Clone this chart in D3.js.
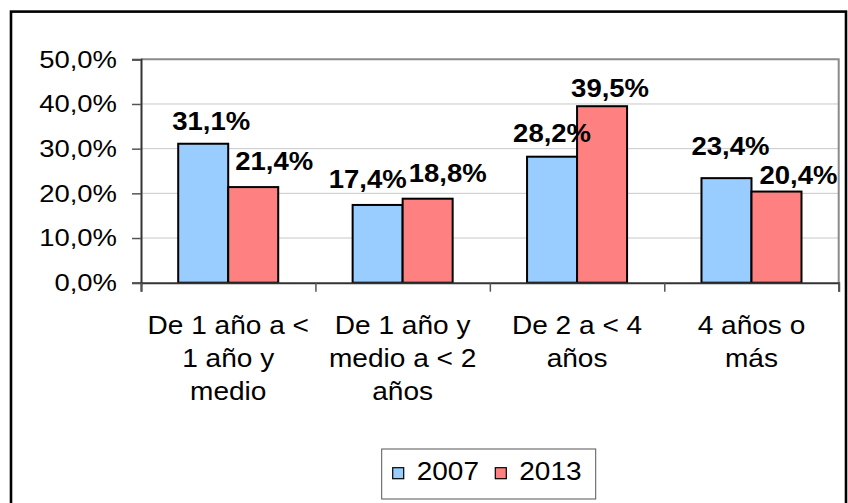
<!DOCTYPE html>
<html>
<head>
<meta charset="utf-8">
<script src="https://cdn.jsdelivr.net/npm/d3@7"></script>
<style>
  body { margin: 0; background: #fff; }
  svg { display: block; }
</style>
</head>
<body>
<div id="chart"></div>
<script>
// data
const categories = [
    ["De 1 año a <", "1 año y", "medio"],
    ["De 1 año y", "medio a < 2", "años"],
    ["De 2 a < 4", "años"],
    ["4 años o", "más"]
];
const seriesNames = ["2007", "2013"];
const values2007 = [31.1, 17.4, 28.2, 23.4];
const values2013 = [21.4, 18.8, 39.5, 20.4];
const yTicks = [0, 10, 20, 30, 40, 50];

// label nudges (Excel moved some labels around to avoid overlaps) [dx, gap above bar]
const labelNudge2007 = [[8, 14], [-10, 17], [0, 15], [4, 23]];
const labelNudge2013 = [[21, 17], [20, 17], [8, 9], [22, 8]];

const width = 848, height = 503;
const colors = { "2007": "#99ccff", "2013": "#ff8080" };
const font = "'Liberation Sans', Arial, sans-serif";

const svg = d3.select("#chart").append("svg")
    .attr("width", width)
    .attr("height", height)
    .attr("font-family", font);

// outer frame
svg.append("rect")
    .attr("x", 11).attr("y", 11.6)
    .attr("width", 835).attr("height", 500)
    .attr("fill", "#fff")
    .attr("stroke", "#000")
    .attr("stroke-width", 2.6);

const plot = { left: 141, right: 838.7, top: 59.3, bottom: 282.7 };

const x = d3.scaleBand()
    .domain(d3.range(categories.length))
    .range([plot.left, plot.right]);

const xInner = d3.scaleBand()
    .domain(seriesNames)
    .range([0, x.bandwidth()])
    .paddingOuter(0.744);

const y = d3.scaleLinear()
    .domain([0, 50])
    .range([plot.bottom, plot.top]);

// gridlines
svg.append("g")
    .selectAll("line")
    .data(yTicks.slice(1, -1))
    .join("line")
    .attr("x1", plot.left).attr("x2", plot.right)
    .attr("y1", d => y(d)).attr("y2", d => y(d))
    .attr("stroke", "#c8c8c8")
    .attr("stroke-width", 1);

// plot border top & right
svg.append("path")
    .attr("d", `M${plot.left},${y(50)}H${plot.right}V${plot.bottom}`)
    .attr("fill", "none")
    .attr("stroke", "#8a8a8a")
    .attr("stroke-width", 2);

// bars
const rows = categories.map((c, i) => [
    { key: "2007", i, v: values2007[i], nudge: labelNudge2007[i] },
    { key: "2013", i, v: values2013[i], nudge: labelNudge2013[i] }
]).flat();

svg.append("g")
    .selectAll("rect")
    .data(rows)
    .join("rect")
    .attr("x", d => x(d.i) + xInner(d.key))
    .attr("y", d => y(d.v))
    .attr("width", xInner.bandwidth())
    .attr("height", d => y(0) - y(d.v))
    .attr("fill", d => colors[d.key])
    .attr("stroke", "#000")
    .attr("stroke-width", 2);

// axes
const yAxis = svg.append("g")
    .attr("transform", `translate(${plot.left},0)`)
    .call(d3.axisLeft(y).tickValues(yTicks).tickSize(9).tickFormat(() => ""));
yAxis.select(".domain").attr("stroke", "#333").attr("stroke-width", 2);
yAxis.selectAll(".tick line").attr("stroke", "#555").attr("stroke-width", 1.5);

const xAxis = svg.append("g")
    .attr("transform", `translate(0,${plot.bottom})`)
    .call(d3.axisBottom(d3.scaleLinear().domain([0, 4]).range([plot.left, plot.right]))
        .ticks(4).tickSize(9).tickFormat(() => ""));
xAxis.select(".domain").attr("stroke", "#333").attr("stroke-width", 2);
xAxis.selectAll(".tick line").attr("stroke", "#555").attr("stroke-width", 1.5);

// y tick labels
const fmt = v => d3.format(".1f")(v).replace(".", ",") + "%";
svg.append("g")
    .selectAll("text")
    .data(yTicks)
    .join("text")
    .attr("transform", d => `translate(117,${y(d) + 8.3}) scale(1.12,1)`)
    .attr("text-anchor", "end")
    .attr("font-size", 24.5)
    .attr("fill", "#000")
    .text(fmt);

// category labels
const catG = svg.append("g")
    .selectAll("g")
    .data(categories)
    .join("g")
    .attr("transform", (d, i) => `translate(${x(i) + x.bandwidth() / 2},334)`);
catG.selectAll("text")
    .data(d => d)
    .join("text")
    .attr("transform", (d, j) => `translate(0,${j * 33}) scale(1.1,1)`)
    .attr("text-anchor", "middle")
    .attr("font-size", 25.5)
    .attr("fill", "#000")
    .text(d => d);

// data labels
svg.append("g")
    .selectAll("text")
    .data(rows)
    .join("text")
    .attr("transform", d => {
        const cx = x(d.i) + xInner(d.key) + xInner.bandwidth() / 2 + d.nudge[0];
        return `translate(${cx},${y(d.v) - d.nudge[1]}) scale(1.1,1)`;
    })
    .attr("text-anchor", "middle")
    .attr("font-size", 25)
    .attr("font-weight", "bold")
    .attr("fill", "#000")
    .text(d => fmt(d.v));

// legend
const legend = svg.append("g").attr("transform", "translate(381.7,449)");
legend.append("rect")
    .attr("width", 214).attr("height", 50)
    .attr("fill", "#fff")
    .attr("stroke", "#555")
    .attr("stroke-width", 1);
const items = legend.selectAll("g.item")
    .data(seriesNames)
    .join("g")
    .attr("class", "item")
    .attr("transform", (d, i) => `translate(${11 + i * 102.6},0)`);
items.append("rect")
    .attr("y", 18.7)
    .attr("width", 11).attr("height", 11)
    .attr("fill", d => colors[d])
    .attr("stroke", "#000")
    .attr("stroke-width", 1.2);
items.append("text")
    .attr("transform", "translate(24,31.3) scale(1.12,1)")
    .attr("font-size", 25)
    .attr("fill", "#000")
    .text(d => d);
</script>
</body>
</html>
